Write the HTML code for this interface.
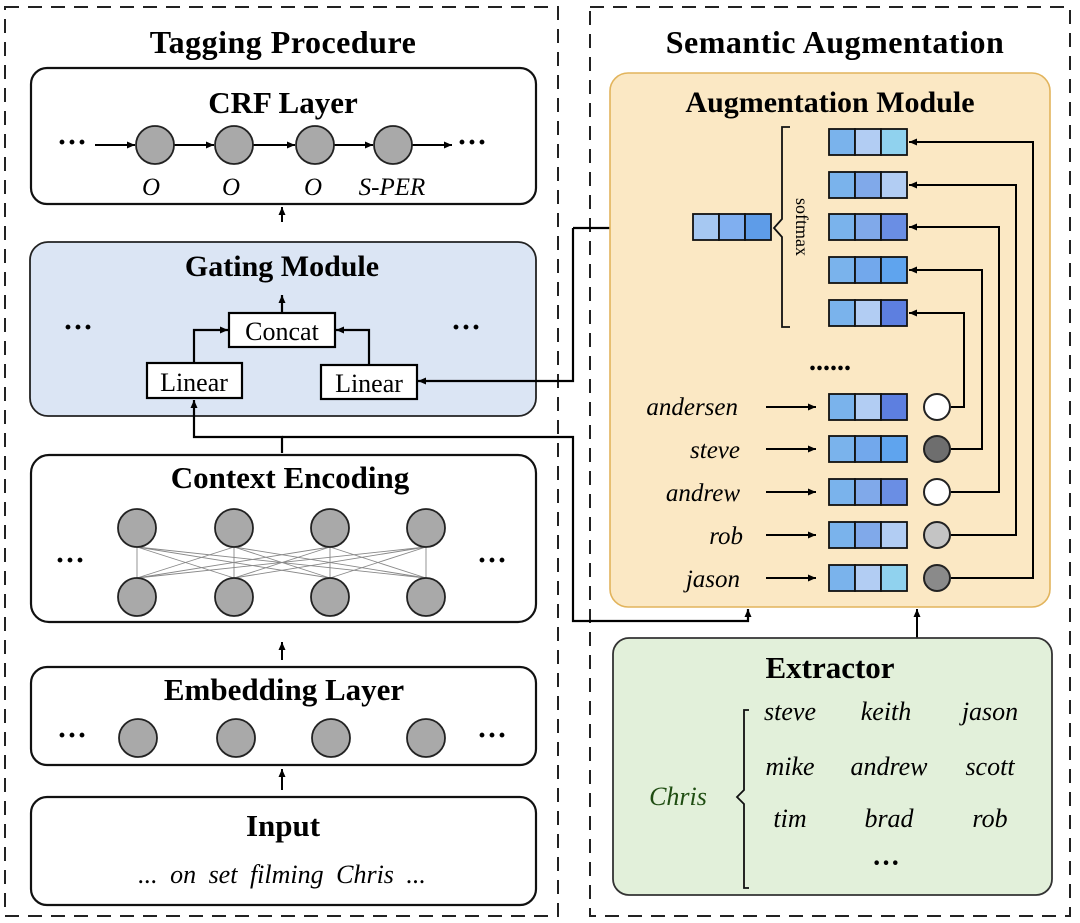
<!DOCTYPE html>
<html><head><meta charset="utf-8"><style>
html,body{margin:0;padding:0;background:#fff;}
svg{display:block;}
text{font-family:"Liberation Serif",serif;}
.b{font-weight:bold;}
.i{font-style:italic;}
</style></head><body>
<svg width="1080" height="923" viewBox="0 0 1080 923" xmlns="http://www.w3.org/2000/svg">
<defs>
<marker id="ah" markerWidth="9" markerHeight="9" refX="8" refY="4.5" orient="auto" markerUnits="userSpaceOnUse">
<path d="M0,1 L8,4.5 L0,8 z" fill="#000"/></marker>
</defs>
<!-- dashed panels -->
<rect x="5" y="7" width="553" height="909" fill="none" stroke="#222" stroke-width="2" stroke-dasharray="14,9"/>
<rect x="590" y="7" width="480" height="909" fill="none" stroke="#222" stroke-width="2" stroke-dasharray="14,9"/>
<text x="283" y="53" font-size="32" class="b" text-anchor="middle" letter-spacing="0.5">Tagging Procedure</text>
<text x="835" y="53" font-size="32" class="b" text-anchor="middle" letter-spacing="0.5">Semantic Augmentation</text>

<!-- CRF -->
<rect x="31" y="68" width="505" height="136" rx="16" fill="#fff" stroke="#111" stroke-width="2.2"/>
<text x="283" y="113" font-size="31" class="b" text-anchor="middle">CRF Layer</text>
<text x="72" y="152" font-size="30" class="b" text-anchor="middle">···</text>
<text x="472" y="152" font-size="30" class="b" text-anchor="middle">···</text>
<g stroke="#000" stroke-width="2" marker-end="url(#ah)">
<line x1="95" y1="145" x2="135" y2="145"/><line x1="174" y1="145" x2="214" y2="145"/>
<line x1="253" y1="145" x2="295" y2="145"/><line x1="334" y1="145" x2="373" y2="145"/>
<line x1="412" y1="145" x2="452" y2="145"/></g>
<g fill="#a9a9a9" stroke="#222" stroke-width="1.8">
<circle cx="155" cy="145" r="19"/><circle cx="234" cy="145" r="19"/><circle cx="315" cy="145" r="19"/><circle cx="393" cy="145" r="19"/></g>
<g font-size="25" class="i" text-anchor="middle"><text x="151" y="195">O</text><text x="231" y="195">O</text><text x="313" y="195">O</text><text x="392" y="195">S-PER</text></g>

<line x1="282" y1="222" x2="282" y2="207" stroke="#000" stroke-width="2" marker-end="url(#ah)"/>

<!-- Gating -->
<rect x="30" y="242" width="506" height="174" rx="18" fill="#dbe5f4" stroke="#222" stroke-width="1.8"/>
<text x="282" y="276" font-size="30" class="b" text-anchor="middle">Gating Module</text>
<text x="78" y="337" font-size="30" class="b" text-anchor="middle">···</text>
<text x="466" y="337" font-size="30" class="b" text-anchor="middle">···</text>
<rect x="229" y="313" width="106" height="34" fill="#fff" stroke="#000" stroke-width="2.2"/>
<text x="282" y="340" font-size="26" text-anchor="middle">Concat</text>
<rect x="147" y="363" width="95" height="35" fill="#fff" stroke="#000" stroke-width="2.2"/>
<text x="194" y="391" font-size="26" text-anchor="middle">Linear</text>
<rect x="321" y="365" width="96" height="34" fill="#fff" stroke="#000" stroke-width="2.2"/>
<text x="369" y="392" font-size="26" text-anchor="middle">Linear</text>
<g stroke="#000" stroke-width="2.2" fill="none" marker-end="url(#ah)">
<line x1="282" y1="313" x2="282" y2="295"/>
<polyline points="194,363 194,330 228,330"/>
<polyline points="369,365 369,330 336,330"/>
<polyline points="573,228 573,381 418,381"/>
<polyline points="282,453 282,437 194,437 194,400"/>
<polyline points="282,437 573,437 573,621 748,621 748,609"/>
<polyline points="573,228 692,228"/>
</g>

<!-- Context Encoding -->
<rect x="31" y="455" width="505" height="167" rx="18" fill="#fff" stroke="#111" stroke-width="2.2"/>
<text x="290" y="488" font-size="31" class="b" text-anchor="middle">Context Encoding</text>
<text x="70" y="570" font-size="30" class="b" text-anchor="middle">···</text>
<text x="492" y="570" font-size="30" class="b" text-anchor="middle">···</text>
<g stroke="#888" stroke-width="0.9">
<line x1="137" y1="547" x2="137" y2="578"/><line x1="234" y1="547" x2="234" y2="578"/><line x1="330" y1="547" x2="330" y2="578"/><line x1="426" y1="547" x2="426" y2="578"/>
<line x1="137" y1="547" x2="234" y2="578"/><line x1="137" y1="547" x2="330" y2="578"/><line x1="137" y1="547" x2="426" y2="578"/>
<line x1="234" y1="547" x2="137" y2="578"/><line x1="234" y1="547" x2="330" y2="578"/><line x1="234" y1="547" x2="426" y2="578"/>
<line x1="330" y1="547" x2="137" y2="578"/><line x1="330" y1="547" x2="234" y2="578"/><line x1="330" y1="547" x2="426" y2="578"/>
<line x1="426" y1="547" x2="137" y2="578"/><line x1="426" y1="547" x2="234" y2="578"/><line x1="426" y1="547" x2="330" y2="578"/>
</g>
<g fill="#a9a9a9" stroke="#222" stroke-width="1.8">
<circle cx="137" cy="528" r="19"/><circle cx="234" cy="528" r="19"/><circle cx="330" cy="528" r="19"/><circle cx="426" cy="528" r="19"/>
<circle cx="137" cy="597" r="19"/><circle cx="234" cy="597" r="19"/><circle cx="330" cy="597" r="19"/><circle cx="426" cy="597" r="19"/></g>

<line x1="282" y1="660" x2="282" y2="642" stroke="#000" stroke-width="2" marker-end="url(#ah)"/>

<!-- Embedding -->
<rect x="31" y="667" width="505" height="98" rx="16" fill="#fff" stroke="#111" stroke-width="2.2"/>
<text x="284" y="700" font-size="31" class="b" text-anchor="middle">Embedding Layer</text>
<text x="72" y="745" font-size="30" class="b" text-anchor="middle">···</text>
<text x="492" y="745" font-size="30" class="b" text-anchor="middle">···</text>
<g fill="#a9a9a9" stroke="#222" stroke-width="1.8">
<circle cx="138" cy="738" r="19"/><circle cx="236" cy="738" r="19"/><circle cx="331" cy="738" r="19"/><circle cx="426" cy="738" r="19"/></g>

<line x1="282" y1="790" x2="282" y2="769" stroke="#000" stroke-width="2" marker-end="url(#ah)"/>

<!-- Input -->
<rect x="31" y="797" width="505" height="108" rx="16" fill="#fff" stroke="#111" stroke-width="2.2"/>
<text x="283" y="836" font-size="31" class="b" text-anchor="middle">Input</text>
<text x="282" y="883" font-size="26" class="i" text-anchor="middle" word-spacing="6">... on set filming Chris ...</text>

<!-- Augmentation module -->
<rect x="610" y="73" width="440" height="534" rx="18" fill="#fbe8c4" stroke="#e2b45c" stroke-width="1.6"/>
<text x="830" y="112" font-size="30" class="b" text-anchor="middle">Augmentation Module</text>
<g stroke="#111" stroke-width="1.8">
<rect x="693" y="214" width="26" height="26" fill="#a6c8f2"/><rect x="719" y="214" width="26" height="26" fill="#80aff0"/><rect x="745" y="214" width="26" height="26" fill="#5e9ce8"/>
</g>
<path d="M790,127 h-8 v92 l-8,9 l8,9 v90 h8" fill="none" stroke="#111" stroke-width="1.8"/>
<text x="0" y="0" font-size="18" text-anchor="middle" transform="translate(796,227) rotate(90)">softmax</text>
<g stroke="#111" stroke-width="1.8">
<rect x="829" y="129" width="26" height="26" fill="#7ab3ec"/><rect x="855" y="129" width="26" height="26" fill="#b2cdf3"/><rect x="881" y="129" width="26" height="26" fill="#90d2ee"/>
<rect x="829" y="172" width="26" height="26" fill="#7ab3ec"/><rect x="855" y="172" width="26" height="26" fill="#80a9ea"/><rect x="881" y="172" width="26" height="26" fill="#b2cdf3"/>
<rect x="829" y="214" width="26" height="26" fill="#7ab3ec"/><rect x="855" y="214" width="26" height="26" fill="#80a9ea"/><rect x="881" y="214" width="26" height="26" fill="#6a8ee4"/>
<rect x="829" y="257" width="26" height="26" fill="#7ab3ec"/><rect x="855" y="257" width="26" height="26" fill="#72a8ec"/><rect x="881" y="257" width="26" height="26" fill="#5fa4ee"/>
<rect x="829" y="300" width="26" height="26" fill="#7ab3ec"/><rect x="855" y="300" width="26" height="26" fill="#b2cdf3"/><rect x="881" y="300" width="26" height="26" fill="#5d7fe0"/>
</g>
<text x="830" y="370" font-size="28" class="b" text-anchor="middle">......</text>
<g font-size="25" class="i" text-anchor="end">
<text x="738" y="415">andersen</text><text x="740" y="458">steve</text><text x="740" y="501">andrew</text><text x="743" y="544">rob</text><text x="740" y="587">jason</text></g>
<g stroke="#000" stroke-width="2" marker-end="url(#ah)">
<line x1="766" y1="407" x2="816" y2="407"/><line x1="766" y1="449" x2="816" y2="449"/><line x1="766" y1="492" x2="816" y2="492"/><line x1="766" y1="535" x2="816" y2="535"/><line x1="766" y1="578" x2="816" y2="578"/></g>
<g stroke="#111" stroke-width="1.8">
<rect x="829" y="394" width="26" height="26" fill="#7ab3ec"/><rect x="855" y="394" width="26" height="26" fill="#b2cdf3"/><rect x="881" y="394" width="26" height="26" fill="#5d7fe0"/>
<rect x="829" y="436" width="26" height="26" fill="#7ab3ec"/><rect x="855" y="436" width="26" height="26" fill="#72a8ec"/><rect x="881" y="436" width="26" height="26" fill="#5fa4ee"/>
<rect x="829" y="479" width="26" height="26" fill="#7ab3ec"/><rect x="855" y="479" width="26" height="26" fill="#80a9ea"/><rect x="881" y="479" width="26" height="26" fill="#6a8ee4"/>
<rect x="829" y="522" width="26" height="26" fill="#7ab3ec"/><rect x="855" y="522" width="26" height="26" fill="#80a9ea"/><rect x="881" y="522" width="26" height="26" fill="#b2cdf3"/>
<rect x="829" y="565" width="26" height="26" fill="#7ab3ec"/><rect x="855" y="565" width="26" height="26" fill="#b2cdf3"/><rect x="881" y="565" width="26" height="26" fill="#90d2ee"/>
</g>
<g stroke="#000" stroke-width="2" fill="none" marker-end="url(#ah)">
<polyline points="951,407 964,407 964,313 909,313"/>
<polyline points="951,449 982,449 982,270 909,270"/>
<polyline points="951,492 999,492 999,227 909,227"/>
<polyline points="951,535 1016,535 1016,185 909,185"/>
<polyline points="951,578 1033,578 1033,142 909,142"/>
</g>
<g stroke="#222" stroke-width="2">
<circle cx="937" cy="407" r="13" fill="#fff"/><circle cx="937" cy="449" r="13" fill="#6e6e6e"/><circle cx="937" cy="492" r="13" fill="#fff"/><circle cx="937" cy="535" r="13" fill="#c4c4c4"/><circle cx="937" cy="578" r="13" fill="#8a8a8a"/></g>

<line x1="917" y1="638" x2="917" y2="609" stroke="#000" stroke-width="2" marker-end="url(#ah)"/>

<!-- Extractor -->
<rect x="613" y="638" width="439" height="257" rx="16" fill="#e2f0da" stroke="#333" stroke-width="1.8"/>
<text x="830" y="678" font-size="31" class="b" text-anchor="middle">Extractor</text>
<text x="678" y="805" font-size="26" class="i" text-anchor="middle" fill="#1f4d12">Chris</text>
<path d="M749,710 h-5 v80 l-7,7 l7,7 v84 h5" fill="none" stroke="#111" stroke-width="1.8"/>
<g font-size="26" class="i" text-anchor="middle">
<text x="790" y="720">steve</text><text x="886" y="720">keith</text><text x="990" y="720">jason</text>
<text x="790" y="775">mike</text><text x="889" y="775">andrew</text><text x="990" y="775">scott</text>
<text x="790" y="827">tim</text><text x="889" y="827">brad</text><text x="990" y="827">rob</text>
</g>
<text x="886" y="872" font-size="28" class="b" text-anchor="middle">···</text>
</svg>
</body></html>
